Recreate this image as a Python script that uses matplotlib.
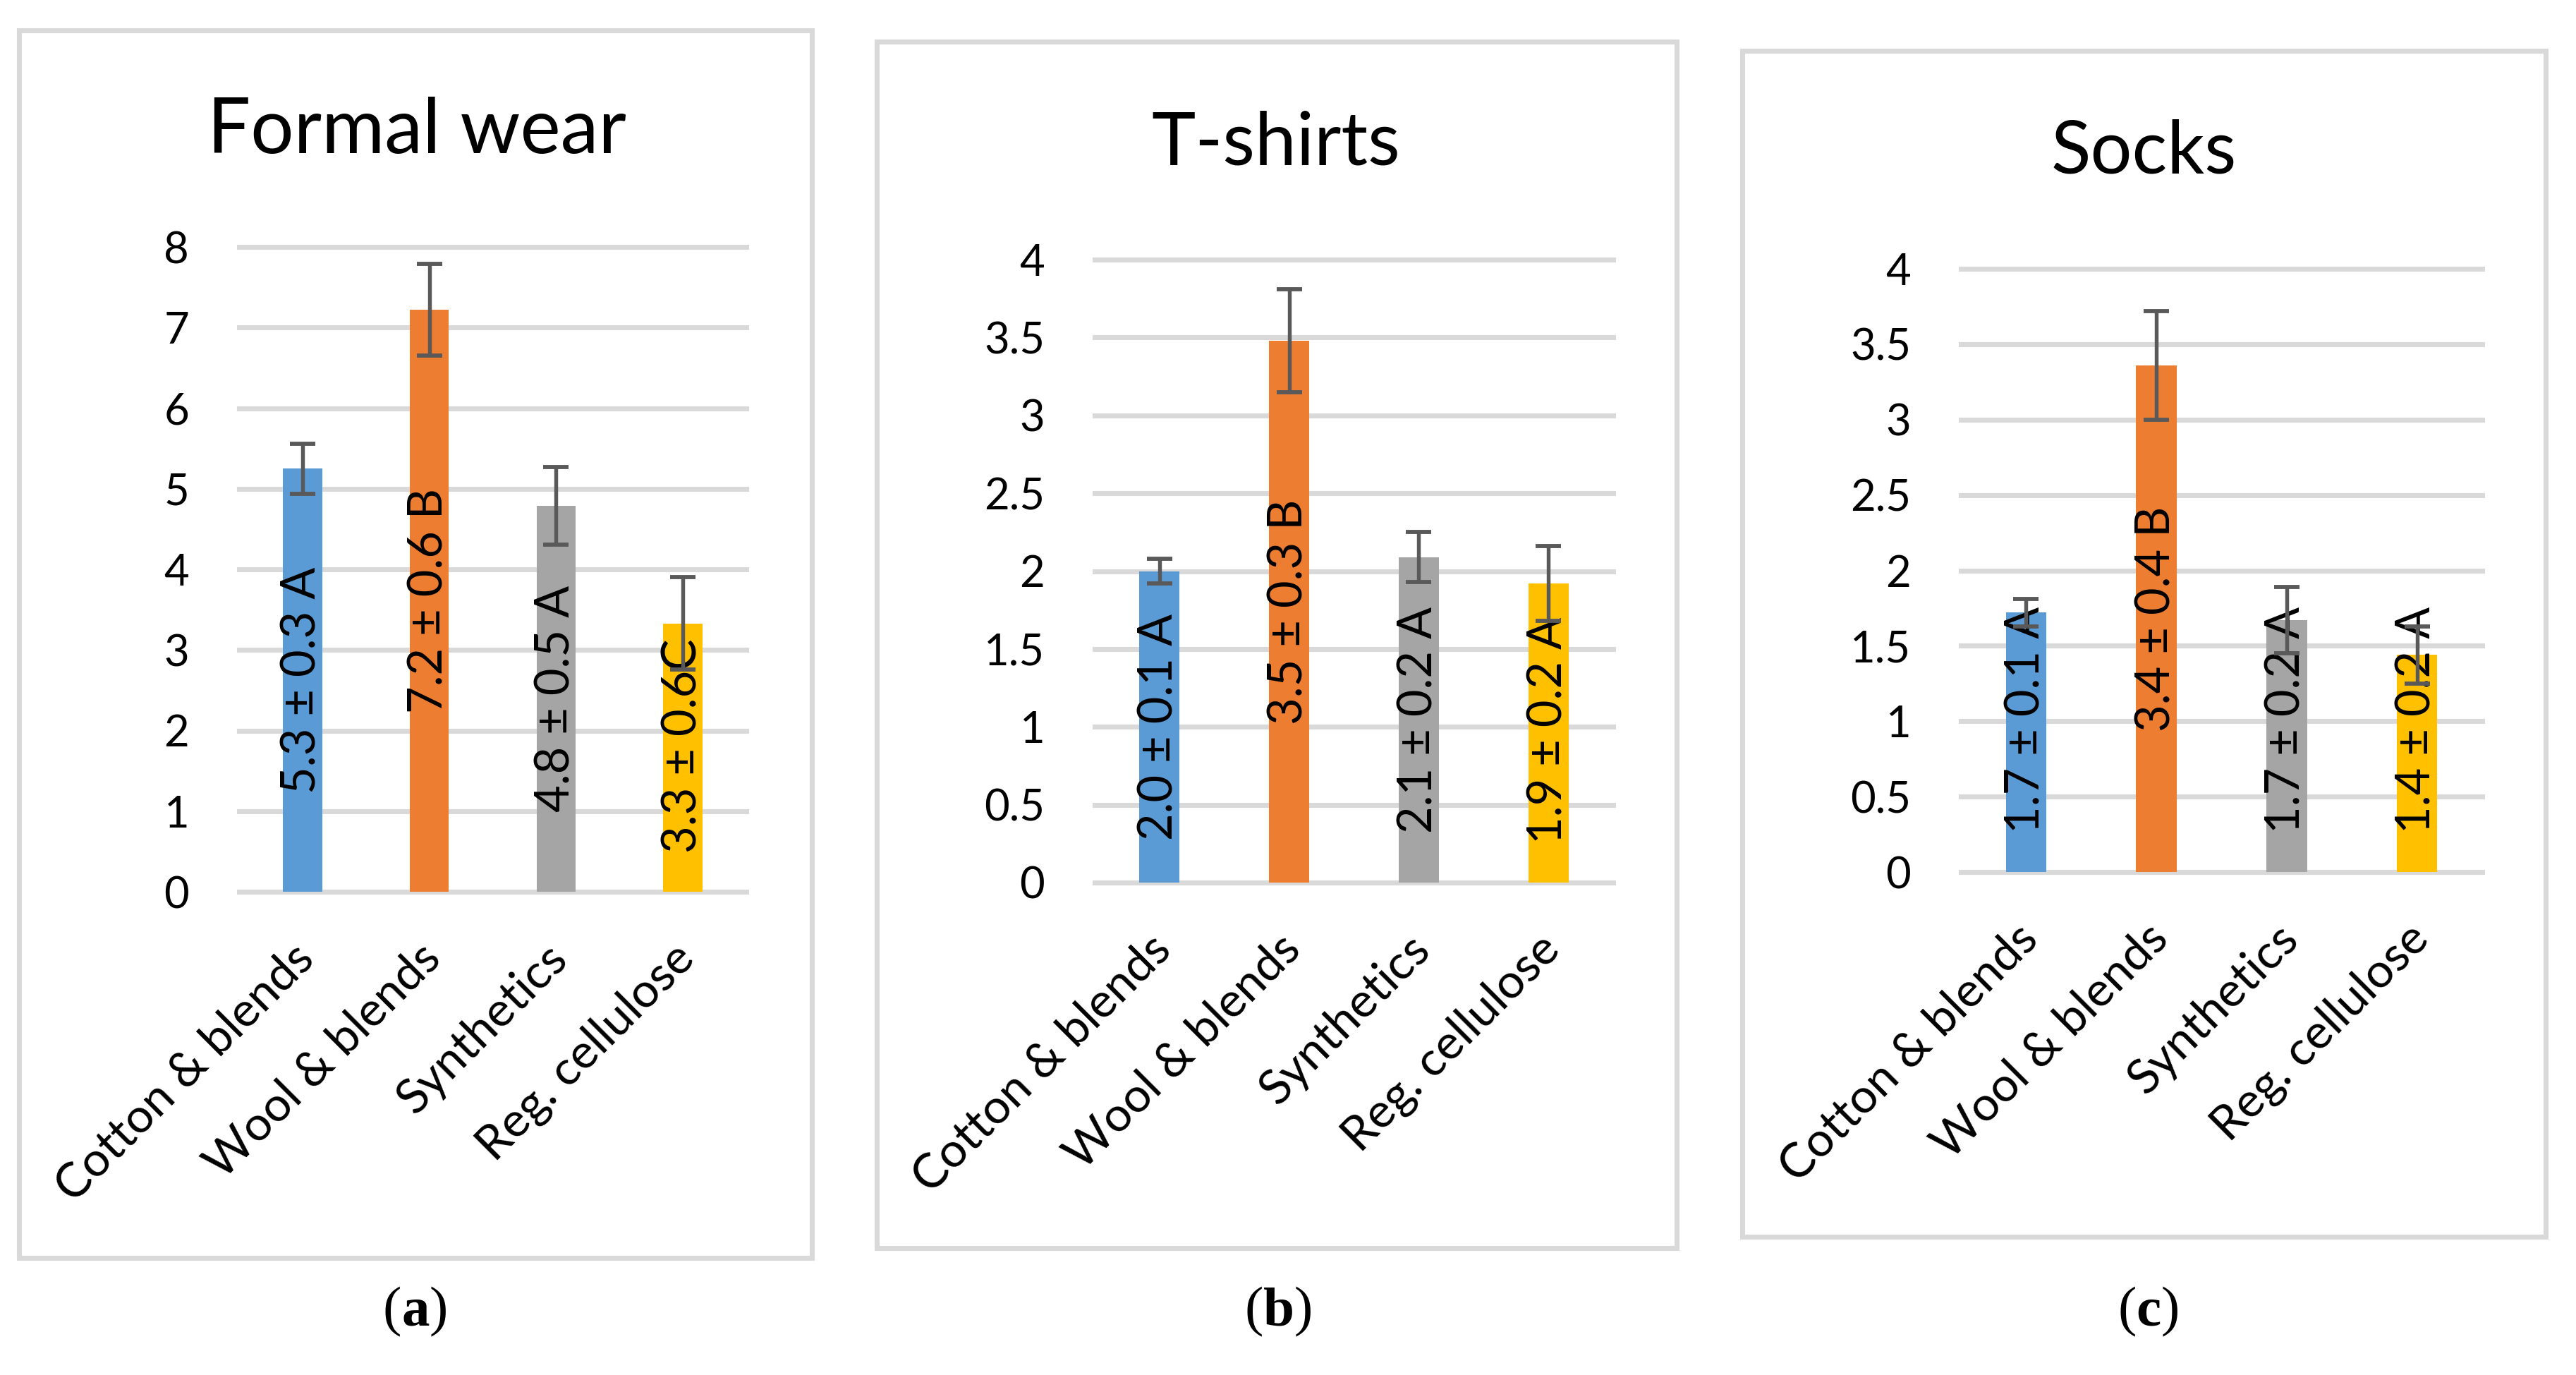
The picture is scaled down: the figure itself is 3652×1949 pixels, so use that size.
import matplotlib
matplotlib.use('Agg')
import matplotlib.pyplot as plt
from matplotlib.patches import Rectangle
from matplotlib.transforms import ScaledTranslation
from matplotlib.offsetbox import TextArea, HPacker, AnnotationBbox

plt.rcParams['font.family'] = ['Lato', 'DejaVu Sans']

# data
categories = ['Cotton & blends', 'Wool & blends', 'Synthetics', 'Reg. cellulose']
bar_colors = ['#5B9BD5', '#ED7D31', '#A5A5A5', '#FFC000']

titles = ['Formal wear', 'T-shirts', 'Socks']
captions = ['a', 'b', 'c']

formal_mean = [5.25, 7.22, 4.79, 3.33]
formal_err = [0.31, 0.57, 0.48, 0.57]
formal_labels = ['5.3 ± 0.3 A', '7.2 ± 0.6 B', '4.8 ± 0.5 A', '3.3 ± 0.6C']

tshirt_mean = [2.00, 3.48, 2.09, 1.92]
tshirt_err = [0.08, 0.33, 0.16, 0.24]
tshirt_labels = ['2.0 ± 0.1 A', '3.5 ± 0.3 B', '2.1 ± 0.2 A', '1.9 ± 0.2 A']

socks_mean = [1.72, 3.36, 1.67, 1.44]
socks_err = [0.09, 0.36, 0.22, 0.19]
socks_labels = ['1.7 ± 0.1 A', '3.4 ± 0.4 B', '1.7 ± 0.2 A', '1.4 ± 0.2 A']

formal_ticks = [0, 1, 2, 3, 4, 5, 6, 7, 8]
small_ticks = [0, 0.5, 1, 1.5, 2, 2.5, 3, 3.5, 4]
small_ticklabels = ['0', '0.5', '1', '1.5', '2', '2.5', '3', '3.5', '4']

W, H = 3653, 1949
DPI = 300

# layout in pixels of the output picture
# box: x0, y0, x1, y1 ; plot: x0, x1, y_top, y_base ; title: x, baseline, size ; caption: x, y
layout = [
    dict(box=(27, 43, 1151, 1783), plot=(339, 1058, 350, 1264), title=(591, 217, 26), cap=(589, 1860)),
    dict(box=(1243, 59, 2377, 1769), plot=(1552, 2287, 368, 1251), title=(1809, 233, 25.3), cap=(1813, 1860)),
    dict(box=(2470, 72, 3609, 1753), plot=(2780, 3519, 381, 1236), title=(3039, 245, 25), cap=(3046, 1860)),
]

panels = [
    (formal_mean, formal_err, formal_labels, formal_ticks, [str(t) for t in formal_ticks], 8),
    (tshirt_mean, tshirt_err, tshirt_labels, small_ticks, small_ticklabels, 4),
    (socks_mean, socks_err, socks_labels, small_ticks, small_ticklabels, 4),
]

fig = plt.figure(figsize=(W / DPI, H / DPI), dpi=DPI)
fig.patch.set_facecolor('white')

grid_color = '#D9D9D9'
err_color = '#595959'
label_pad_px = 55

texts = []
for lay, (mean, err, labels, ticks, ticklabels, ymax), title, cap in zip(layout, panels, titles, captions):
    bx0, by0, bx1, by1 = lay['box']
    fig.patches.append(Rectangle((bx0 / W, 1 - by1 / H), (bx1 - bx0) / W, (by1 - by0) / H,
                                 transform=fig.transFigure, fill=False,
                                 edgecolor=grid_color, linewidth=1.7, zorder=0))

    px0, px1, ptop, pbase = lay['plot']
    ax = fig.add_axes([px0 / W, 1 - pbase / H, (px1 - px0) / W, (pbase - ptop) / H])
    x = list(range(len(categories)))
    ax.bar(x, mean, width=0.31, color=bar_colors, zorder=2)
    ax.errorbar(x, mean, yerr=err, fmt='none', ecolor=err_color, elinewidth=1.3,
                capsize=4.4, capthick=1.4, zorder=4)

    ax.set_xlim(-0.5, len(categories) - 0.5)
    ax.set_ylim(0, ymax)
    ax.set_yticks(ticks)
    ax.set_yticklabels(ticklabels, fontsize=14.8)
    ax.yaxis.grid(True, color=grid_color, linewidth=1.7, zorder=0)
    ax.set_axisbelow(True)
    for gl in ax.yaxis.get_gridlines():
        gl.set_clip_on(False)
    for s in ax.spines.values():
        s.set_visible(False)
    ax.tick_params(axis='both', length=0)
    ax.tick_params(axis='y', pad=17)
    ax.tick_params(axis='x', pad=15)
    ax.set_xticks(x)
    ax.set_xticklabels(categories, rotation=45, ha='right', va='top',
                       rotation_mode='anchor', fontsize=16.3)
    shift = ScaledTranslation(-3.8 / 72, 0, fig.dpi_scale_trans)
    for lbl in ax.get_xticklabels():
        lbl.set_transform(lbl.get_transform() + shift)

    for xi, v, s in zip(x, mean, labels):
        t = ax.text(xi, v / 2, s, rotation=90, ha='center', va='center',
                    fontsize=16, color='black', zorder=3)
        texts.append((ax, t))

    tx, ty, tsize = lay['title']
    fig.text(tx / W, 1 - ty / H, title, ha='center', va='baseline', fontsize=tsize)

    serif = dict(family='Liberation Serif', size=19, color='black')
    box = HPacker(children=[TextArea('(', textprops=serif),
                            TextArea(cap, textprops=dict(serif, weight='bold')),
                            TextArea(')', textprops=serif)],
                  sep=0, pad=0, align='baseline')
    cx, cy = lay['cap']
    fig.add_artist(AnnotationBbox(box, (cx / W, 1 - cy / H), xycoords='figure fraction',
                                  box_alignment=(0.5, 0.5), frameon=False, pad=0))

# Excel style: centred labels, pushed up when they would run past the bar base
fig.canvas.draw()
renderer = fig.canvas.get_renderer()
for ax, t in texts:
    bb = t.get_window_extent(renderer)
    base = ax.transData.transform((0, 0))[1]
    if bb.y0 < base + label_pad_px:
        cy = (bb.y0 + bb.y1) / 2 + (base + label_pad_px - bb.y0)
        t.set_y(ax.transData.inverted().transform((0, cy))[1])

fig.savefig('out.png', dpi=DPI, facecolor='white')
